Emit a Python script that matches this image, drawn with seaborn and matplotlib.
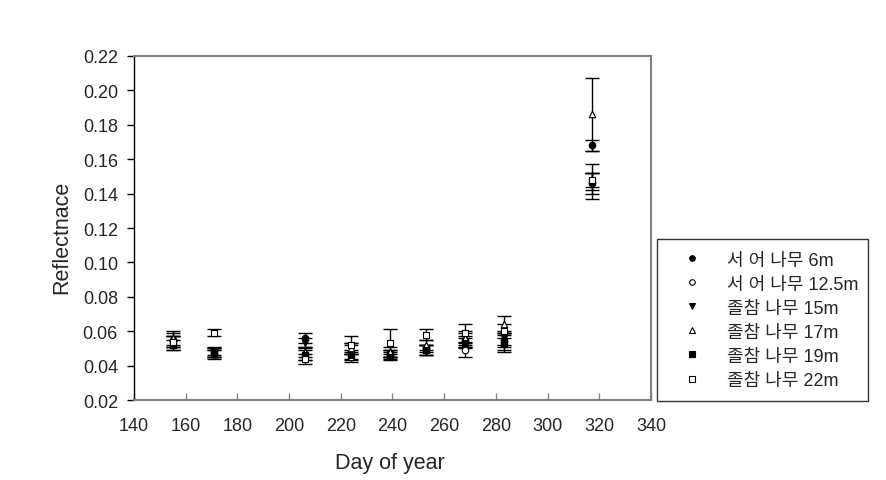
import matplotlib
matplotlib.use("Agg")
import matplotlib.pyplot as plt
from matplotlib.lines import Line2D
import seaborn as sns
import pandas as pd
import numpy as np

sns.set_style("white")
plt.rcParams['font.family'] = ['Liberation Sans', 'Noto Sans CJK KR', 'DejaVu Sans']

doy = [155, 171, 206, 224, 239, 253, 268, 283, 317]
labels = ["서 어 나무 6m", "서 어 나무 12.5m", "졸참 나무 15m", "졸참 나무 17m", "졸참 나무 19m", "졸참 나무 22m"]

r_6m = [0.055, 0.048, 0.056, 0.048, 0.046, 0.049, 0.055, 0.055, 0.168]
e_6m = [0.004, 0.003, 0.003, 0.004, 0.002, 0.003, 0.004, 0.004, 0.003]
r_125m = [0.054, 0.047, 0.047, 0.045, 0.047, 0.050, 0.049, 0.054, 0.146]
e_125m = [0.003, 0.002, 0.004, 0.003, 0.002, 0.002, 0.004, 0.005, 0.006]
r_15m = [0.053, 0.048, 0.053, 0.050, 0.047, 0.049, 0.054, 0.056, 0.147]
e_15m = [0.004, 0.002, 0.003, 0.003, 0.002, 0.003, 0.003, 0.004, 0.010]
r_17m = [0.056, 0.047, 0.048, 0.050, 0.048, 0.052, 0.056, 0.064, 0.186]
e_17m = [0.004, 0.003, 0.003, 0.003, 0.003, 0.003, 0.004, 0.005, 0.021]
r_19m = [0.052, 0.047, 0.046, 0.046, 0.045, 0.049, 0.053, 0.053, 0.147]
e_19m = [0.003, 0.002, 0.003, 0.003, 0.002, 0.003, 0.003, 0.005, 0.005]
r_22m = [0.054, 0.059, 0.044, 0.052, 0.053, 0.058, 0.059, 0.060, 0.148]
e_22m = [0.003, 0.002, 0.003, 0.005, 0.008, 0.003, 0.005, 0.004, 0.004]

values = [r_6m, r_125m, r_15m, r_17m, r_19m, r_22m]
errors = [e_6m, e_125m, e_15m, e_17m, e_19m, e_22m]
markers = ['o', 'o', 'v', '^', 's', 's']
faces = ['black', 'white', 'black', 'white', 'black', 'white']

fig = plt.figure(figsize=(8.86, 4.81), dpi=100)
ax = fig.add_axes([0.1512, 0.1663, 0.5836, 0.7152])

for lab, v, e, m, fc in zip(labels, values, errors, markers, faces):
    df = pd.DataFrame({"doy": doy, "val": v, "err": e})
    ax.errorbar(df["doy"], df["val"], yerr=df["err"], fmt='none', ecolor='black',
                elinewidth=1.0, capsize=5, capthick=1.0, zorder=2)
    sns.scatterplot(data=df, x="doy", y="val", marker=m, color=fc, edgecolor='black',
                    linewidth=0.8, s=22, ax=ax, zorder=3, legend=False)

ax.set_xlim(140, 340)
ax.set_ylim(0.02, 0.22)
ax.set_xticks(np.arange(140, 341, 20))
ax.set_yticks(np.arange(0.02, 0.2201, 0.02))
ax.set_yticklabels([f"{t:.2f}" for t in np.arange(0.02, 0.2201, 0.02)])
ax.tick_params(axis='y', direction='out', length=5, width=1, color='black', labelsize=13, pad=6.5, left=True)
ax.tick_params(axis='x', direction='in', length=5, width=1, color='#808080', labelsize=13, pad=12.5, bottom=True)
ax.set_xlabel("Day of year", fontsize=15.5)
ax.set_ylabel("Reflectnace", fontsize=15.5)
ax.xaxis.set_label_coords(0.495, -0.151)
ax.yaxis.set_label_coords(-0.12, 0.477)
for side in ['top', 'right', 'bottom']:
    ax.spines[side].set_color('#808080')
    ax.spines[side].set_linewidth(1.5)
ax.spines['left'].set_color('black')
ax.spines['left'].set_linewidth(1.0)

handles = [Line2D([], [], linestyle='none', marker=m, markerfacecolor=fc, markeredgecolor='black',
                  markersize=4, markeredgewidth=0.8) for m, fc in zip(markers, faces)]
leg = fig.legend(handles, labels, loc='lower left', bbox_to_anchor=(0.7415, 0.164, 0.238, 0.3306),
                 mode='expand', frameon=True, fancybox=False, edgecolor='black', fontsize=13,
                 borderaxespad=0, labelspacing=0.39, handletextpad=0.68, borderpad=0.68,
                 handlelength=2.53)
leg.get_frame().set_linewidth(1.0)

fig.savefig("out.png", dpi=100)
